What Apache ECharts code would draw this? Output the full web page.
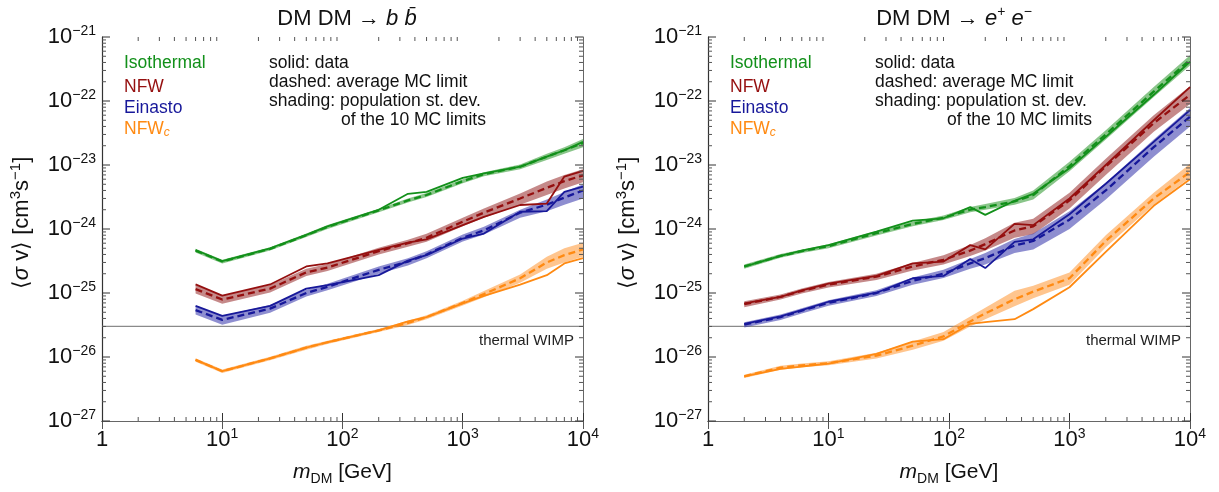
<!DOCTYPE html>
<html><head><meta charset="utf-8">
<script src="https://cdn.jsdelivr.net/npm/echarts@6/dist/echarts.min.js"></script>
<style>html,body{margin:0;padding:0;background:#fff}#c{width:1219px;height:492px}#err{position:absolute;left:300px;top:440px;color:red;font:11px monospace}</style>
</head><body><div id="c"></div><div id="err"></div>
<script>
window.onerror = function (m) { document.getElementById('err').textContent = m; };
// ---------- data: DM DM -> b bbar ----------
const massBB = [6, 10, 25, 50, 75, 200, 350, 500, 1000, 1500, 3000, 5000, 7000, 10000];
const isoBBData = [4.7e-25, 3.16e-25, 5.0e-25, 8.1e-25, 1.1e-24, 2.0e-24, 3.55e-24, 3.8e-24, 6.3e-24, 7.4e-24, 9.4e-24, 1.35e-23, 1.7e-23, 2.3e-23];
const isoBBMC   = [4.6e-25, 3.1e-25, 4.9e-25, 8.0e-25, 1.08e-24, 1.95e-24, 2.8e-24, 3.4e-24, 5.6e-24, 7.2e-24, 9.4e-24, 1.35e-23, 1.7e-23, 2.2e-23];
const isoBBLo   = [4.3e-25, 2.9e-25, 4.6e-25, 7.5e-25, 1.0e-24, 1.82e-24, 2.6e-24, 3.15e-24, 5.2e-24, 6.7e-24, 8.6e-24, 1.2e-23, 1.5e-23, 1.9e-23];
const isoBBHi   = [4.9e-25, 3.3e-25, 5.2e-25, 8.5e-25, 1.15e-24, 2.08e-24, 3.0e-24, 3.65e-24, 6.0e-24, 7.7e-24, 1.02e-23, 1.5e-23, 1.9e-23, 2.55e-23];
const nfwBBData = [1.36e-25, 9.1e-26, 1.36e-25, 2.6e-25, 2.9e-25, 4.7e-25, 6.1e-25, 6.9e-25, 1.15e-24, 1.55e-24, 2.37e-24, 2.5e-24, 6.6e-24, 8.1e-24];
const nfwBBMC   = [1.15e-25, 7.9e-26, 1.17e-25, 2.1e-25, 2.5e-25, 4.5e-25, 6.0e-25, 7.3e-25, 1.3e-24, 1.8e-24, 3.0e-24, 4.4e-24, 5.6e-24, 6.9e-24];
const nfwBBLo   = [9.8e-26, 6.8e-26, 1.02e-25, 1.85e-25, 2.2e-25, 4.0e-25, 5.3e-25, 6.3e-25, 1.1e-24, 1.5e-24, 2.4e-24, 3.4e-24, 4.3e-24, 5.4e-24];
const nfwBBHi   = [1.33e-25, 9.2e-26, 1.33e-25, 2.4e-25, 2.85e-25, 5.1e-25, 6.8e-25, 8.4e-25, 1.5e-24, 2.1e-24, 3.6e-24, 5.5e-24, 7.0e-24, 8.6e-24];
const einBBData = [6.3e-26, 4.4e-26, 6.3e-26, 1.17e-25, 1.33e-25, 1.9e-25, 3.2e-25, 3.9e-25, 7.1e-25, 8.5e-25, 1.86e-24, 1.9e-24, 3.8e-24, 4.6e-24];
const einBBMC   = [5.4e-26, 3.8e-26, 5.7e-26, 1.0e-25, 1.25e-25, 2.3e-25, 3.1e-25, 4.0e-25, 7.3e-25, 9.5e-25, 1.8e-24, 2.4e-24, 3.1e-24, 4.0e-24];
const einBBLo   = [4.6e-26, 3.2e-26, 4.9e-26, 8.8e-26, 1.1e-25, 2.0e-25, 2.7e-25, 3.5e-25, 6.4e-25, 8.2e-25, 1.5e-24, 1.9e-24, 2.4e-24, 3.0e-24];
const einBBHi   = [6.2e-26, 4.4e-26, 6.5e-26, 1.12e-25, 1.4e-25, 2.6e-25, 3.5e-25, 4.5e-25, 8.2e-25, 1.08e-24, 2.0e-24, 2.9e-24, 3.8e-24, 5.0e-24];
const nfwcBBData = [9.0e-27, 6.0e-27, 9.5e-27, 1.4e-26, 1.7e-26, 2.6e-26, 3.6e-26, 4.2e-26, 6.9e-26, 9.0e-26, 1.35e-25, 1.9e-25, 2.9e-25, 3.5e-25];
const nfwcBBMC   = [9.0e-27, 6.0e-27, 9.5e-27, 1.4e-26, 1.7e-26, 2.6e-26, 3.4e-26, 4.2e-26, 7.0e-26, 9.6e-26, 1.7e-25, 3.0e-25, 3.9e-25, 4.8e-25];
const nfwcBBLo   = [8.4e-27, 5.6e-27, 8.9e-27, 1.3e-26, 1.6e-26, 2.45e-26, 3.15e-26, 3.9e-26, 6.4e-26, 8.6e-26, 1.45e-25, 2.4e-25, 3.0e-25, 3.7e-25];
const nfwcBBHi   = [9.6e-27, 6.4e-27, 1.01e-26, 1.5e-26, 1.8e-26, 2.75e-26, 3.7e-26, 4.5e-26, 7.6e-26, 1.07e-25, 1.95e-25, 3.7e-25, 5.0e-25, 6.1e-25];

// ---------- data: DM DM -> e+ e- ----------
const massEE = [2, 4, 6, 10, 25, 50, 90, 150, 200, 350, 500, 1000, 2000, 5000, 10000];
const isoEEData = [2.58e-25, 3.8e-25, 4.6e-25, 5.6e-25, 9.1e-25, 1.35e-24, 1.47e-24, 2.2e-24, 1.66e-24, 2.76e-24, 3.55e-24, 8.9e-24, 2.75e-23, 1.25e-22, 4.1e-22];
const isoEEMC   = [2.6e-25, 3.8e-25, 4.5e-25, 5.4e-25, 8.6e-25, 1.2e-24, 1.5e-24, 2.0e-24, 2.2e-24, 2.7e-24, 3.4e-24, 9.6e-24, 3.0e-23, 1.4e-22, 4.4e-22];
const isoEELo   = [2.4e-25, 3.55e-25, 4.2e-25, 5.0e-25, 7.9e-25, 1.1e-24, 1.38e-24, 1.82e-24, 2.0e-24, 2.4e-24, 2.9e-24, 8.0e-24, 2.5e-23, 1.15e-22, 3.6e-22];
const isoEEHi   = [2.8e-25, 4.05e-25, 4.8e-25, 5.8e-25, 9.3e-25, 1.3e-24, 1.62e-24, 2.2e-24, 2.45e-24, 3.05e-24, 4.0e-24, 1.12e-23, 3.5e-23, 1.65e-22, 5.2e-22];
const nfwEEData = [6.9e-26, 8.7e-26, 1.1e-25, 1.4e-25, 1.85e-25, 2.9e-25, 3.1e-25, 5.6e-25, 4.8e-25, 1.2e-24, 1.15e-24, 3.0e-24, 1.0e-23, 5.0e-23, 1.65e-22];
const nfwEEMC   = [6.7e-26, 8.7e-26, 1.08e-25, 1.35e-25, 1.8e-25, 2.6e-25, 3.3e-25, 4.6e-25, 5.8e-25, 9.5e-25, 1.1e-24, 2.8e-24, 9.5e-24, 4.5e-23, 1.25e-22];
const nfwEELo   = [6.0e-26, 7.9e-26, 9.8e-26, 1.22e-25, 1.6e-25, 2.25e-25, 2.8e-25, 3.8e-25, 4.6e-25, 7.3e-25, 8.3e-25, 2.1e-24, 7.0e-24, 3.3e-23, 9.0e-23];
const nfwEEHi   = [7.4e-26, 9.5e-26, 1.18e-25, 1.48e-25, 2.0e-25, 2.95e-25, 3.9e-25, 5.6e-25, 7.2e-25, 1.25e-24, 1.45e-24, 3.7e-24, 1.25e-23, 6.0e-23, 1.7e-22];
const einEEData = [3.3e-26, 4.3e-26, 5.4e-26, 7.3e-26, 1.01e-25, 1.7e-25, 1.85e-25, 3.4e-25, 2.45e-25, 6.3e-25, 6.9e-25, 1.7e-24, 5.1e-24, 2.3e-23, 7.2e-23];
const einEEMC   = [3.2e-26, 4.2e-26, 5.3e-26, 7.0e-26, 1.0e-25, 1.55e-25, 2.0e-25, 2.9e-25, 3.5e-25, 5.5e-25, 6.5e-25, 1.4e-24, 4.0e-24, 1.9e-23, 5.7e-23];
const einEELo   = [2.9e-26, 3.8e-26, 4.8e-26, 6.3e-26, 9.0e-26, 1.35e-25, 1.72e-25, 2.4e-25, 2.8e-25, 4.2e-25, 4.8e-25, 1.0e-24, 2.9e-24, 1.35e-23, 4.0e-23];
const einEEHi   = [3.5e-26, 4.6e-26, 5.8e-26, 7.7e-26, 1.1e-25, 1.75e-25, 2.3e-25, 3.4e-25, 4.2e-25, 7.0e-25, 8.5e-25, 1.9e-24, 5.3e-24, 2.5e-23, 7.8e-23];
const nfwcEEData = [5.0e-27, 6.5e-27, 7.1e-27, 7.9e-27, 1.12e-26, 1.74e-26, 1.9e-26, 3.3e-26, 3.5e-26, 3.9e-26, 5.6e-26, 1.23e-25, 4.4e-25, 2.3e-24, 6.0e-24];
const nfwcEEMC   = [5.0e-27, 6.8e-27, 7.4e-27, 8.0e-27, 1.05e-26, 1.5e-26, 2.1e-26, 3.6e-26, 4.8e-26, 8.0e-26, 1.05e-25, 1.7e-25, 6.5e-25, 3.0e-24, 7.8e-24];
const nfwcEELo   = [4.7e-27, 6.3e-27, 6.9e-27, 7.4e-27, 9.5e-27, 1.3e-26, 1.8e-26, 3.0e-26, 3.9e-26, 6.2e-26, 8.3e-26, 1.35e-25, 5.2e-25, 2.4e-24, 6.3e-24];
const nfwcEEHi   = [5.3e-27, 7.3e-27, 7.9e-27, 8.6e-27, 1.16e-26, 1.75e-26, 2.45e-26, 4.3e-26, 5.9e-26, 1.08e-25, 1.3e-25, 2.1e-25, 8.0e-25, 3.7e-24, 1.05e-23];

const thermalWIMP = 3e-26;

// ---------- tick labels ----------
const xTickValues = [1, 10, 100, 1000, 10000];
const xTickExps = ['', '1', '2', '3', '4'];
const yTickValues = [1e-27, 1e-26, 1e-25, 1e-24, 1e-23, 1e-22, 1e-21];
const yTickExps = ['−27', '−26', '−25', '−24', '−23', '−22', '−21'];
const minorMultipliers = [2, 3, 4, 5, 6, 7, 8, 9];

const FONT = '"Liberation Sans", Arial, Helvetica, sans-serif';
const C = { iso: '#12901a', nfw: '#950f0f', ein: '#17189a', nfwc: '#ff8a12' };
const B = { iso: 'rgba(40,150,40,0.55)', nfw: 'rgba(150,40,40,0.55)', ein: 'rgba(50,50,170,0.55)', nfwc: 'rgba(255,150,50,0.55)' };

function nearestIdx(arr, v) {
  let best = 0;
  arr.forEach((a, i) => { if (Math.abs(Math.log10(a) - Math.log10(v)) < Math.abs(Math.log10(arr[best]) - Math.log10(v))) best = i; });
  return best;
}
const tickRich = {
  b: { fontSize: 22, fontFamily: FONT, color: '#111', lineHeight: 26 },
  s: { fontSize: 14, fontFamily: FONT, color: '#111', verticalAlign: 'top', lineHeight: 12 },
  bf: { fontSize: 22, fontFamily: FONT, fill: '#111', lineHeight: 26 },
  sf: { fontSize: 14, fontFamily: FONT, fill: '#111', verticalAlign: 'top', lineHeight: 12 }
};
function xLabel(v) {
  const i = nearestIdx(xTickValues, v);
  return xTickExps[i] === '' ? '{b|1}' : '{b|10}{s|' + xTickExps[i] + '}';
}

const grids = [
  { left: 102, top: 37, width: 481, height: 384, containLabel: false, outerBoundsMode: 'none' },
  { left: 708, top: 37, width: 482, height: 384, containLabel: false, outerBoundsMode: 'none' }
];

const xAxes = [], yAxes = [];
grids.forEach((g, gi) => {
  xAxes.push({
    type: 'log', logBase: 10, min: 1, max: 10000, gridIndex: gi, position: 'bottom',
    axisLine: { lineStyle: { color: '#333', width: 1.2 } },
    axisTick: { inside: true, length: 8, lineStyle: { color: '#333' }, customValues: xTickValues },
    axisLabel: { formatter: xLabel, rich: tickRich, margin: 6, customValues: xTickValues, hideOverlap: false },
    splitLine: { show: false },
    name: '{i|m}{sub|DM}{n| [GeV]}', nameLocation: 'middle', nameGap: 37,
    nameTextStyle: { rich: {
      i: { fontSize: 21, fontStyle: 'italic', fontFamily: FONT, color: '#111', lineHeight: 28 },
      sub: { fontSize: 14, fontFamily: FONT, color: '#111', verticalAlign: 'bottom', lineHeight: 14 },
      n: { fontSize: 21, fontFamily: FONT, color: '#111', lineHeight: 28 } } }
  });
  xAxes.push({
    type: 'log', logBase: 10, min: 1, max: 10000, gridIndex: gi, position: 'top',
    axisLine: { lineStyle: { color: '#666', width: 1 } },
    axisTick: { inside: true, length: 8, lineStyle: { color: '#555' }, customValues: xTickValues },
    axisLabel: { show: false }, splitLine: { show: false }
  });
  yAxes.push({
    type: 'log', logBase: 10, min: 1e-27, max: 1e-21, gridIndex: gi, position: 'left',
    axisLine: { lineStyle: { color: '#333', width: 1.2 } },
    axisTick: { show: false }, axisLabel: { show: false }, splitLine: { show: false }
  });
  yAxes.push({
    type: 'log', logBase: 10, min: 1e-27, max: 1e-21, gridIndex: gi, position: 'right',
    axisLine: { lineStyle: { color: '#666', width: 1 } },
    axisTick: { show: false }, axisLabel: { show: false }, splitLine: { show: false }
  });
});

const series = [];
function addProfile(gi, mass, data, mc, lo, hi, color, band) {
  const ax = { xAxisIndex: 2 * gi, yAxisIndex: 2 * gi };
  series.push(Object.assign({
    type: 'custom', data: mass.map((m, i) => [m, lo[i], hi[i]]), silent: true, z: 2,
    encode: { x: 0, y: [1, 2] },
    renderItem: (params, api) => {
      if (params.dataIndexInside !== 0) return null;
      const n = params.dataInsideLength;
      const upper = [], lower = [];
      for (let i = 0; i < n; i++) {
        upper.push(api.coord([api.value(0, i), api.value(2, i)]));
        lower.push(api.coord([api.value(0, i), api.value(1, i)]));
      }
      return { type: 'polygon', shape: { points: upper.concat(lower.reverse()) }, style: { fill: band } };
    }
  }, ax));
  series.push(Object.assign({ type: 'line', data: mass.map((m, i) => [m, mc[i]]), symbol: 'none',
    lineStyle: { color: color, width: 2.3, type: [7, 4] }, silent: true, z: 3 }, ax));
  series.push(Object.assign({ type: 'line', data: mass.map((m, i) => [m, data[i]]), symbol: 'none',
    lineStyle: { color: color, width: 1.8 }, silent: true, z: 4 }, ax));
}
addProfile(0, massBB, isoBBData, isoBBMC, isoBBLo, isoBBHi, C.iso, B.iso);
addProfile(0, massBB, nfwBBData, nfwBBMC, nfwBBLo, nfwBBHi, C.nfw, B.nfw);
addProfile(0, massBB, einBBData, einBBMC, einBBLo, einBBHi, C.ein, B.ein);
addProfile(0, massBB, nfwcBBData, nfwcBBMC, nfwcBBLo, nfwcBBHi, C.nfwc, B.nfwc);
addProfile(1, massEE, isoEEData, isoEEMC, isoEELo, isoEEHi, C.iso, B.iso);
addProfile(1, massEE, nfwEEData, nfwEEMC, nfwEELo, nfwEEHi, C.nfw, B.nfw);
addProfile(1, massEE, einEEData, einEEMC, einEELo, einEEHi, C.ein, B.ein);
addProfile(1, massEE, nfwcEEData, nfwcEEMC, nfwcEELo, nfwcEEHi, C.nfwc, B.nfwc);

grids.forEach((g, gi) => {
  const ax = { xAxisIndex: 2 * gi, yAxisIndex: 2 * gi };
  // thermal WIMP reference line with its label at the right end
  series.push(Object.assign({
    type: 'custom', data: [[xTickValues[0], thermalWIMP, xTickValues[xTickValues.length - 1]]], silent: true, z: 1,
    renderItem: (params, api) => {
      const p1 = api.coord([api.value(0), api.value(1)]);
      const p2 = api.coord([api.value(2), api.value(1)]);
      return { type: 'group', children: [
        { type: 'line', shape: { x1: p1[0], y1: p1[1], x2: p2[0], y2: p2[1] }, style: { stroke: '#8a8a8a', lineWidth: 1.2 } },
        { type: 'text', x: p2[0] - 9, y: p2[1] + 14, style: { text: 'thermal WIMP', align: 'right', verticalAlign: 'middle', fontSize: 15, fontFamily: FONT, fill: '#222' } } ] };
    }
  }, ax));
  // major y ticks + labels
  series.push(Object.assign({
    type: 'custom', data: yTickValues.map((v, i) => [xTickValues[0], v, i]), silent: true, clip: false, z: 5,
    renderItem: (params, api) => {
      const cs = params.coordSys;
      const y = api.coord([api.value(0), api.value(1)])[1];
      const st = { stroke: '#333', lineWidth: 1 };
      const idx = api.value(2);
      return { type: 'group', children: [
        { type: 'line', shape: { x1: cs.x, y1: y, x2: cs.x + 8, y2: y }, style: st },
        { type: 'line', shape: { x1: cs.x + cs.width, y1: y, x2: cs.x + cs.width - 8, y2: y }, style: st },
        { type: 'text', x: cs.x - 6, y: y, style: { text: '{bf|10}{sf|' + yTickExps[idx] + '}', align: 'right', verticalAlign: 'middle', rich: tickRich } } ] };
    }
  }, ax));
  const xMinor = [];
  xTickValues.slice(0, -1).forEach(d => minorMultipliers.forEach(k => xMinor.push([k * d, yTickValues[0]])));
  const yMinor = [];
  yTickValues.slice(0, -1).forEach(d => minorMultipliers.forEach(k => yMinor.push([xTickValues[0], k * d])));
  series.push(Object.assign({
    type: 'custom', data: xMinor, silent: true, clip: false, z: 5,
    renderItem: (params, api) => {
      const cs = params.coordSys;
      const x = api.coord([api.value(0), api.value(1)])[0];
      const st = { stroke: '#555', lineWidth: 1 };
      return { type: 'group', children: [
        { type: 'line', shape: { x1: x, y1: cs.y + cs.height, x2: x, y2: cs.y + cs.height - 4 }, style: st },
        { type: 'line', shape: { x1: x, y1: cs.y, x2: x, y2: cs.y + 4 }, style: st } ] };
    }
  }, ax));
  series.push(Object.assign({
    type: 'custom', data: yMinor, silent: true, clip: false, z: 5,
    renderItem: (params, api) => {
      const cs = params.coordSys;
      const y = api.coord([api.value(0), api.value(1)])[1];
      const st = { stroke: '#555', lineWidth: 1 };
      return { type: 'group', children: [
        { type: 'line', shape: { x1: cs.x, y1: y, x2: cs.x + 4, y2: y }, style: st },
        { type: 'line', shape: { x1: cs.x + cs.width, y1: y, x2: cs.x + cs.width - 4, y2: y }, style: st } ] };
    }
  }, ax));
});

// legend + notes (text)
const legendItems = [
  { text: '{t|Isothermal}', color: C.iso, dy: 63 },
  { text: '{t|NFW}', color: C.nfw, dy: 87 },
  { text: '{t|Einasto}', color: C.ein, dy: 108 },
  { text: '{t|NFW}{c|c}', color: C.nfwc, dy: 129 }
];
const notes = [
  { text: 'solid: data', dx: 167, dy: 63 },
  { text: 'dashed: average MC limit', dx: 167, dy: 82 },
  { text: 'shading: population st. dev.', dx: 167, dy: 101 },
  { text: 'of the 10 MC limits', dx: 239, dy: 120 }
];
const yNameRich = {
  p: { fontSize: 22, fontFamily: FONT, fill: '#111', lineHeight: 28 },
  i: { fontSize: 22, fontStyle: 'italic', fontFamily: FONT, fill: '#111', lineHeight: 28 },
  s: { fontSize: 15, fontFamily: FONT, fill: '#111', verticalAlign: 'top', lineHeight: 14 }
};
const graphic = [];
grids.forEach(g => {
  legendItems.forEach(it => graphic.push({
    type: 'text', x: g.left + 22, y: it.dy, silent: true,
    style: { text: it.text, verticalAlign: 'middle', rich: {
      t: { fontSize: 17.5, fontFamily: FONT, fill: it.color },
      c: { fontSize: 12, fontStyle: 'italic', fontFamily: FONT, fill: it.color, verticalAlign: 'bottom', padding: [8, 0, 0, 0] } } }
  }));
  notes.forEach(n => graphic.push({
    type: 'text', x: g.left + n.dx, y: n.dy, silent: true,
    style: { text: n.text, verticalAlign: 'middle', fontSize: 17.5, fontFamily: FONT, fill: '#111' }
  }));
  graphic.push({
    type: 'text', x: g.left - 80, y: g.top + 186, rotation: Math.PI / 2, silent: true,
    style: { text: '{p|⟨}{i|σ}{p| v⟩ [cm}{s|3}{p|s}{s|−1}{p|]}', align: 'center', verticalAlign: 'middle', rich: yNameRich }
  });
});

const titleRich = {
  n: { fontSize: 22, fontWeight: 'normal', fontFamily: FONT, color: '#111', lineHeight: 28 },
  i: { fontSize: 22, fontWeight: 'normal', fontStyle: 'italic', fontFamily: FONT, color: '#111', lineHeight: 28 },
  s: { fontSize: 14, fontWeight: 'normal', fontFamily: FONT, color: '#111', verticalAlign: 'top', lineHeight: 13 }
};
const option = {
  animation: false,
  backgroundColor: '#fff',
  title: [
    { text: '{n|DM DM → }{i|b b̄}', left: 342, top: 0, textAlign: 'center', textStyle: { fontWeight: 'normal', rich: titleRich } },
    { text: '{n|DM DM → }{i|e}{s|+}{n| }{i|e}{s|−}', left: 949, top: 0, textAlign: 'center', textStyle: { fontWeight: 'normal', rich: titleRich } }
  ],
  grid: grids,
  xAxis: xAxes,
  yAxis: yAxes,
  series: series,
  graphic: graphic
};
try {
  const chart = echarts.init(document.getElementById('c'), null, { renderer: 'canvas' });
  chart.setOption(option);
} catch (e) { document.getElementById('err').textContent = e.message + ' ' + (e.stack || '').slice(0, 300); }
</script>
</body></html>
